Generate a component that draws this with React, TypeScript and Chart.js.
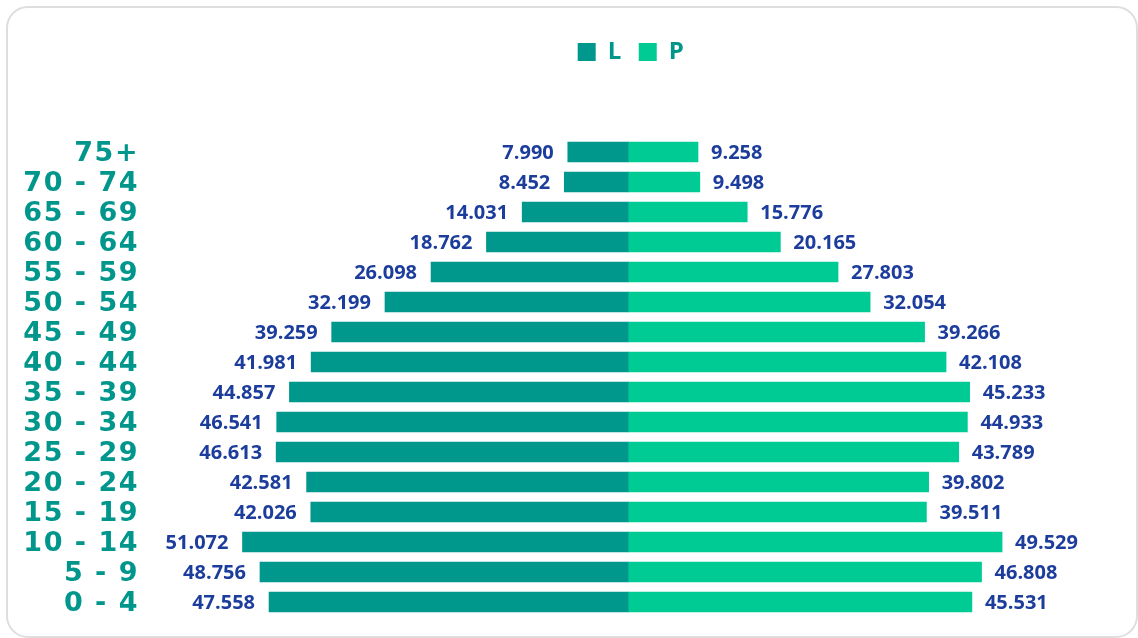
import React, { useEffect, useRef } from "react";
import { Chart, registerables } from "chart.js";

Chart.register(...registerables);

const categories = ["75+", "70 - 74", "65 - 69", "60 - 64", "55 - 59", "50 - 54", "45 - 49", "40 - 44", "35 - 39", "30 - 34", "25 - 29", "20 - 24", "15 - 19", "10 - 14", "5 - 9", "0 - 4"];
const maleL = [7990, 8452, 14031, 18762, 26098, 32199, 39259, 41981, 44857, 46541, 46613, 42581, 42026, 51072, 48756, 47558];
const femaleP = [9258, 9498, 15776, 20165, 27803, 32054, 39266, 42108, 45233, 44933, 43789, 39802, 39511, 49529, 46808, 45531];
const seriesNames = ["L", "P"];

const COLOR_L = "#00978D";
const COLOR_P = "#00CB95";
const LABEL_BLUE = "#1D3D9C";
const AXIS_TEAL = "#00968C";

const fmt = (v: number) => {
  const a = Math.abs(v);
  const th = Math.floor(a / 1000);
  const rest = String(a % 1000).padStart(3, "0");
  return th + "." + rest;
};

const spacing = {
  id: "spacing",
  beforeDraw(chart: any) {
    (chart.ctx as any).letterSpacing = "1.5px";
  },
  beforeDatasetsDraw(chart: any) {
    (chart.ctx as any).letterSpacing = "0px";
  },
};

const valueLabels = {
  id: "valueLabels",
  afterDatasetsDraw(chart: any) {
    const ctx = chart.ctx;
    ctx.save();
    (ctx as any).letterSpacing = "0px";
    ctx.font = "700 20px 'Open Sans'";
    ctx.fillStyle = LABEL_BLUE;
    ctx.textBaseline = "middle";
    chart.data.datasets.forEach((ds: any, di: number) => {
      const meta = chart.getDatasetMeta(di);
      meta.data.forEach((el: any, i: number) => {
        const v = ds.data[i];
        if (v < 0) {
          ctx.textAlign = "right";
          ctx.fillText(fmt(v), el.x - 14, el.y + 1);
        } else {
          ctx.textAlign = "left";
          ctx.fillText(fmt(v), el.x + 13, el.y + 1);
        }
      });
    });
    ctx.restore();
  },
};

export default function App() {
  const ref = useRef<HTMLCanvasElement>(null);
  useEffect(() => {
    document.body.style.margin = "0";
    const chart = new Chart(ref.current!, {
      type: "bar",
      data: {
        labels: categories,
        datasets: [
          { label: seriesNames[0], data: maleL.map((v) => -v), backgroundColor: COLOR_L, borderWidth: 0, barThickness: 20 },
          { label: seriesNames[1], data: femaleP, backgroundColor: COLOR_P, borderWidth: 0, barThickness: 20 },
        ],
      },
      options: {
        indexAxis: "y",
        responsive: true,
        maintainAspectRatio: false,
        animation: false,
        layout: { padding: { top: 24, right: 78, bottom: 21, left: 0 } },
        scales: {
          x: {
            position: "top",
            stacked: true,
            min: -56700,
            max: 57200,
            grid: { display: false },
            border: { display: false },
            ticks: { display: false },
            afterFit: (s: any) => {
              s.height = 63;
            },
          },
          y: {
            stacked: true,
            grid: { display: true, drawOnChartArea: false, drawTicks: true, tickLength: 61, tickColor: "rgba(0,0,0,0)", color: "rgba(0,0,0,0)" },
            border: { display: false },
            ticks: {
              autoSkip: false,
              padding: 0,
              labelOffset: 2,
              color: AXIS_TEAL,
              font: { family: "'DejaVu Sans'", weight: "bold", size: 27 },
            },
            afterFit: (s: any) => {
              s.width = 200;
            },
          },
        },
        plugins: {
          legend: {
            position: "top",
            fullSize: false,
            labels: {
              boxWidth: 18,
              boxHeight: 18,
              padding: 16,
              color: AXIS_TEAL,
              font: { family: "'Open Sans'", weight: "bold", size: 24 },
            },
          },
          tooltip: { enabled: false },
        },
      },
      plugins: [spacing, valueLabels],
    } as any);
    return () => chart.destroy();
  }, []);
  return (
    <div>
      <div
        style={{
          position: "fixed",
          left: 6,
          top: 6,
          width: 1132,
          height: 632,
          boxSizing: "border-box",
          border: "2px solid #dedede",
          borderRadius: 22,
          background: "#fff",
        }}
      />
      <div style={{ position: "fixed", left: 0, top: 0, width: 1138, height: 638 }}>
        <canvas ref={ref} />
      </div>
    </div>
  );
}
